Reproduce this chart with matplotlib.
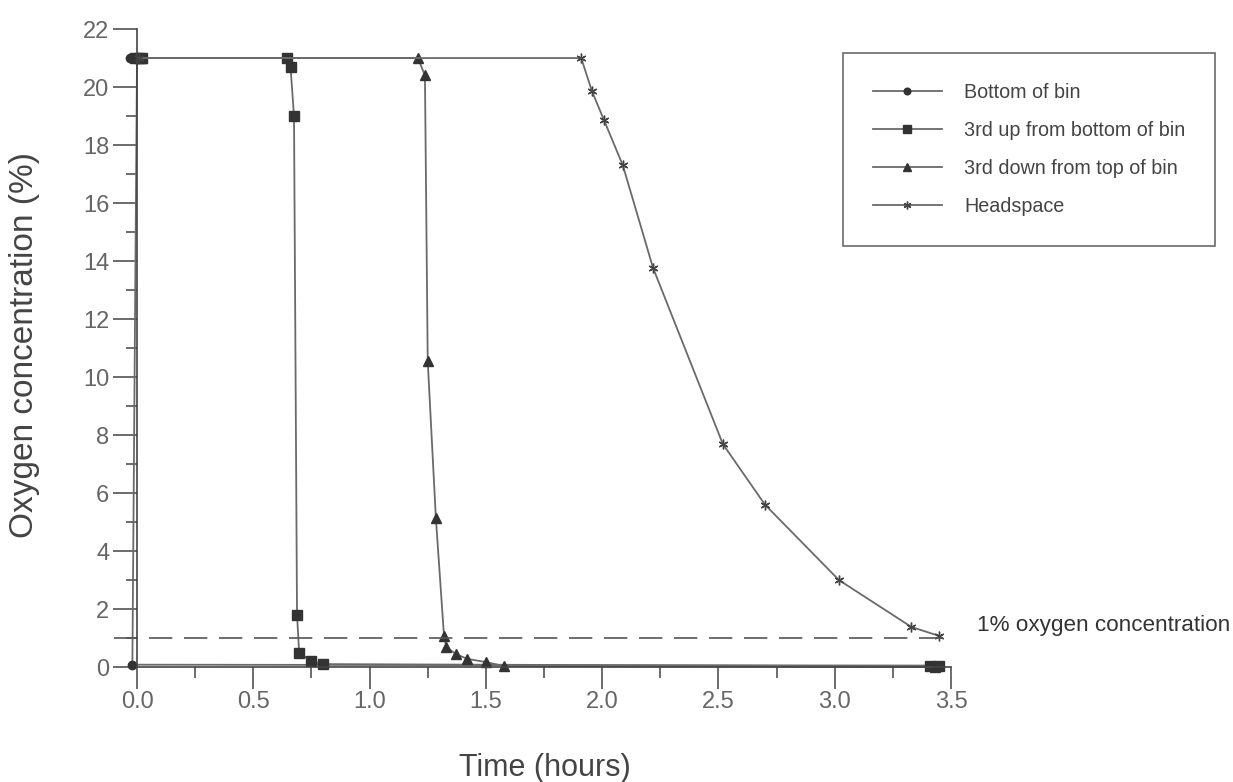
import numpy as np
import matplotlib
matplotlib.use("Agg")
import matplotlib.pyplot as plt
from matplotlib.ticker import MultipleLocator

plt.rcParams['font.family'] = ['Liberation Sans', 'DejaVu Sans']

# data (time in hours, O2 in %)
bottom_t = [-0.03, -0.015, 0.0, -0.02, 3.42, 3.44]
bottom_o2 = [21.0, 21.0, 21.0, 0.08, 0.05, 0.05]

up3_t = [-0.01, 0.01, 0.02, 0.645, 0.66, 0.675, 0.688, 0.697, 0.748, 0.80, 3.41, 3.45]
up3_o2 = [21.0, 21.0, 21.0, 21.0, 20.7, 19.0, 1.8, 0.5, 0.2, 0.1, 0.02, 0.02]

down3_t = [0.02, 1.208, 1.238, 1.25, 1.285, 1.32, 1.33, 1.37, 1.42, 1.50, 1.58, 3.43]
down3_o2 = [21.0, 21.0, 20.4, 10.55, 5.14, 1.07, 0.69, 0.45, 0.28, 0.17, 0.03, 0.0]

head_t = [0.01, 1.91, 1.956, 2.008, 2.089, 2.219, 2.519, 2.70, 3.018, 3.33, 3.45]
head_o2 = [21.0, 21.0, 19.86, 18.86, 17.3, 13.76, 7.69, 5.6, 3.0, 1.38, 1.07]

labels = ["Bottom of bin", "3rd up from bottom of bin",
          "3rd down from top of bin", "Headspace"]
threshold = 1.0

fig = plt.figure(figsize=(12.33, 7.82), dpi=100)
fig.patch.set_facecolor('white')
ax = fig.add_axes([0.0885, 0.1248, 0.6922, 0.8492])

line_c = '#6a6a6a'
mark_c = '#333333'
kw = dict(color=line_c, lw=1.3, mfc=mark_c, mec=mark_c)
ax.plot(bottom_t, bottom_o2, marker='o', ms=6, label=labels[0], **kw)
ax.plot(up3_t, up3_o2, marker='s', ms=6.5, label=labels[1], **kw)
ax.plot(down3_t, down3_o2, marker='^', ms=7.5, label=labels[2], **kw)
ax.plot(head_t, head_o2, marker=(6, 2, 0), ms=7, mew=1.0, label=labels[3],
        color=line_c, lw=1.3, mec='#444444')

ax.plot([-0.1, 3.5], [threshold, threshold], color='#555555', lw=1.2,
        dashes=(14, 7))

ax.set_xlim(-0.12, 3.55)
ax.set_ylim(-0.6, 22.3)
for s in ['top', 'right']:
    ax.spines[s].set_visible(False)
ax.spines['left'].set_bounds(0, 22)
ax.spines['bottom'].set_bounds(0, 3.5)
for s in ['left', 'bottom']:
    ax.spines[s].set_color('#444444')
    ax.spines[s].set_linewidth(1.2)
    ax.spines[s].set_position(('data', 0))

ax.xaxis.set_major_locator(MultipleLocator(0.5))
ax.xaxis.set_minor_locator(MultipleLocator(0.25))
ax.yaxis.set_major_locator(MultipleLocator(2))
ax.yaxis.set_minor_locator(MultipleLocator(1))
ax.xaxis.set_major_formatter(matplotlib.ticker.FormatStrFormatter('%.1f'))
ax.tick_params(axis='x', which='major', length=16, width=1.1, color='#444444',
               labelsize=17, labelcolor='#666666', pad=1)
ax.tick_params(axis='x', which='minor', length=8, width=1.1, color='#444444')
ax.tick_params(axis='y', which='major', length=17, width=1.1, color='#444444',
               labelsize=17, labelcolor='#666666', pad=3)
ax.tick_params(axis='y', which='minor', length=8, width=1.1, color='#444444')

fig.text(25 / 1233, 1 - 345 / 782, 'Oxygen concentration (%)', rotation=90,
         ha='center', va='center', fontsize=24, color='#444444')
fig.text(545 / 1233, 1 - 768 / 782, 'Time (hours)', ha='center', va='center',
         fontsize=22, color='#444444')
fig.text(977 / 1233, 1 - 626 / 782, '1% oxygen concentration', ha='left',
         va='center', fontsize=16.2, color='#333333')

leg = ax.legend(loc='upper left', bbox_to_anchor=(843 / 1233, 1 - 53 / 782),
                bbox_transform=fig.transFigure, fontsize=14.2, frameon=True,
                fancybox=False, handlelength=3.5, handletextpad=1.15,
                labelspacing=0.97, borderpad=1.5, borderaxespad=0,
                markerscale=0.8)
leg.get_frame().set_edgecolor('#444444')
leg.get_frame().set_linewidth(1.2)
for t in leg.get_texts():
    t.set_color('#444444')

fig.savefig('out.png', dpi=100, facecolor='white')
